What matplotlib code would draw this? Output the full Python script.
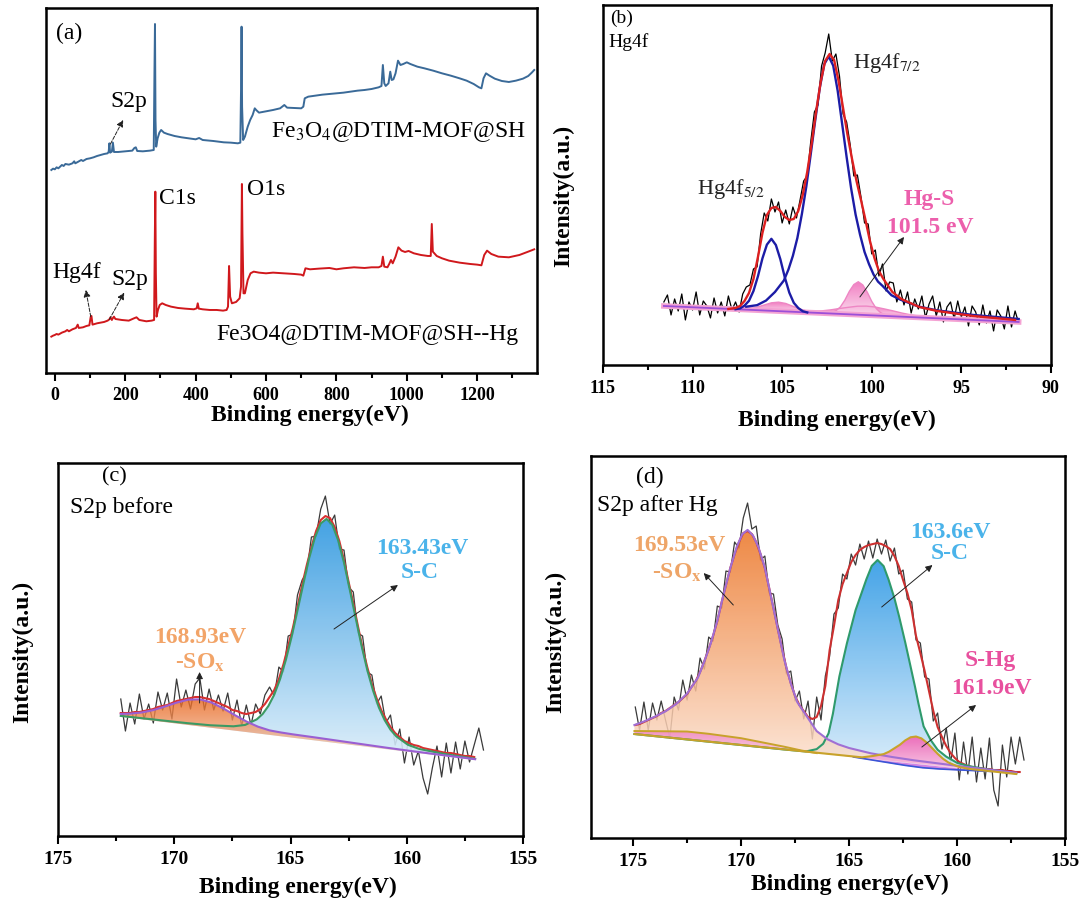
import numpy as np
import matplotlib
matplotlib.use('Agg')
import matplotlib.pyplot as plt
from matplotlib.colors import LinearSegmentedColormap
from matplotlib.ticker import MultipleLocator

plt.rcParams['font.family'] = 'Liberation Serif'
plt.rcParams['mathtext.fontset'] = 'stix'

# ---------------- (a) survey spectra ----------------
a_blue_x = [-10, -5, 0, 5, 10, 20, 25, 30, 40, 50, 55, 58, 65, 75, 80, 90, 100, 110, 120, 130,
            140, 150, 153, 155, 157, 162, 165, 168, 180, 200, 220, 226, 230, 234, 250, 270, 281, 283, 284.5, 286,
            288, 292, 297, 302, 310, 320, 340, 360, 380, 400, 410, 420, 450, 480, 500, 520, 527, 529, 530.5, 532,
            535, 540, 548, 555, 562, 568, 572, 580, 600, 620, 640, 652, 660, 680, 700, 706, 710, 720, 740, 760,
            780, 800, 820, 840, 860, 880, 900, 920, 928, 932, 936, 940, 948, 953, 957, 962, 968, 975, 982, 990,
            1000, 1010, 1030, 1050, 1075, 1100, 1125, 1150, 1170, 1190, 1205, 1212, 1218, 1225, 1235, 1250, 1270, 1290, 1310, 1330,
            1345, 1355, 1362]
a_blue_y = [610, 614, 612, 618, 615, 625, 622, 628, 626, 630, 636, 630, 634, 640, 637, 643, 645, 648, 652, 655,
            658, 660, 665, 690, 662, 665, 692, 664, 664, 666, 668, 676, 678, 667, 666, 668, 670, 900, 1048, 760,
            680, 705, 722, 730, 722, 718, 712, 708, 705, 702, 706, 700, 697, 693, 692, 690, 692, 850, 1040, 800,
            700, 710, 740, 760, 775, 795, 790, 782, 786, 790, 795, 805, 797, 796, 795, 800, 825, 830, 833, 836,
            838, 840, 842, 845, 848, 850, 853, 858, 862, 925, 870, 862, 870, 905, 880, 882, 900, 938, 925, 928,
            933, 928, 920, 915, 908, 900, 893, 885, 878, 868, 858, 855, 885, 900, 893, 884, 877, 874, 878, 884,
            892, 902, 910]
a_red_x = [-10, -5, 0, 5, 10, 20, 30, 35, 40, 50, 60, 65, 68, 80, 90, 98, 102, 104, 107, 120,
           140, 150, 155, 158, 162, 165, 168, 172, 190, 210, 225, 232, 240, 260, 275, 282, 284, 285.5, 287, 289,
           293, 298, 305, 315, 330, 350, 370, 395, 403, 406, 409, 420, 440, 460, 478, 488, 492, 495, 498, 503,
           515, 525, 529, 531.5, 533, 536, 540, 548, 556, 565, 580, 600, 620, 650, 680, 700, 706, 712, 725, 750,
           780, 800, 820, 850, 880, 900, 920, 928, 932, 936, 945, 950, 955, 960, 968, 976, 985, 995, 1005, 1020,
           1040, 1060, 1068, 1071, 1074, 1085, 1100, 1120, 1150, 1180, 1200, 1212, 1220, 1228, 1240, 1260, 1290, 1320, 1345, 1362]
a_red_y = [110, 113, 115, 118, 116, 122, 126, 130, 126, 132, 136, 146, 136, 138, 142, 144, 170, 172, 146, 150,
           154, 158, 162, 168, 160, 166, 170, 163, 160, 158, 165, 168, 160, 156, 158, 160, 400, 545, 300, 170,
           190, 205, 210, 205, 200, 196, 194, 192, 195, 210, 194, 192, 190, 190, 188, 190, 200, 322, 230, 210,
           214, 225, 260, 568, 420, 240, 240, 280, 300, 305, 302, 300, 302, 300, 298, 296, 293, 315, 312, 314,
           316, 312, 315, 318, 316, 318, 318, 322, 350, 320, 318, 328, 340, 330, 350, 378, 368, 364, 367, 360,
           355, 352, 352, 448, 365, 352, 345, 338, 332, 328, 326, 324, 355, 368, 358, 350, 348, 355, 365, 372]
a_ticks = [0, 200, 400, 600, 800, 1000, 1200]

# ---------------- (b) Hg4f ----------------
b_raw = [63, 70, 50, 66, 54, 71, 45, 63, 55, 73, 50, 64, 59, 47, 67, 52, 63, 49, 69, 55,
         63, 53, 71, 78, 80, 96, 98, 131, 152, 144, 166, 153, 163, 142, 155, 141, 158, 147, 165, 184,
         189, 224, 253, 260, 299, 312, 331, 304, 311, 289, 251, 243, 220, 189, 190, 168, 142, 141, 111, 115,
         89, 101, 74, 83, 82, 63, 75, 60, 73, 52, 66, 56, 69, 47, 61, 69, 49, 63, 43, 58,
         63, 46, 64, 48, 58, 39, 59, 53, 40, 60, 42, 54, 34, 55, 49, 36, 59, 38, 54, 42]
b_base_x = [111.6, 91.8]
b_base_y = [59, 43]
b_fit_x = [108.0, 107.6, 107.35, 107.1, 106.85, 106.6, 106.35, 106.1, 105.85, 105.6, 105.35, 105.1, 104.85, 104.6,
           104.35, 104.1, 103.85, 103.6, 103.35, 103.1, 102.85, 102.6, 102.35, 102.1, 101.85, 101.6, 101.35, 101.1,
           100.85, 100.6, 100.35, 100.1, 99.85, 99.6, 99.35, 98.85, 98.35, 97.35, 96.35, 94.35, 92.0]
b_fit_y = [56, 57, 59, 64, 72, 86, 108, 132, 150, 157, 158, 154, 148, 145, 146, 154, 170, 193, 222, 254,
           283, 304, 311, 305, 284, 257, 230, 206, 184, 165, 145, 124, 107, 94, 86, 73, 66, 58, 54, 49, 45]
b_72_x = [107.0, 106.4, 105.9, 105.4, 104.9, 104.65, 104.4, 104.15, 103.9, 103.65, 103.4, 103.15, 102.9, 102.65,
          102.4, 102.15, 101.9, 101.65, 101.4, 101.15, 100.9, 100.65, 100.4, 100.15, 99.9, 99.65, 99.4, 98.9,
          98.4, 97.4, 96.4, 94.4, 91.8]
b_72_h = [3, 5, 10, 19, 31, 42, 56, 74, 98, 126, 159, 193, 225, 249, 257, 248, 223, 190, 157, 126,
          100, 80, 63, 51, 41, 34, 30, 21, 17, 11, 8, 5, 3]
b_52_x = [107.6, 107.35, 107.1, 106.85, 106.6, 106.35, 106.1, 105.85, 105.6, 105.35, 105.1, 104.85, 104.6,
          104.35, 104.1, 103.85, 103.6]
b_52_h = [0, 1, 4, 9, 19, 34, 52, 66, 72, 66, 52, 34, 19, 9, 4, 1, 0]
b_pk1_x = [107.2, 106.8, 106.4, 106.0, 105.6, 105.2, 104.8, 104.4, 104.0, 103.6, 103.2]
b_pk1_h = [0.4, 1.3, 3, 5.5, 8, 9, 8, 5.5, 3, 1.3, 0.4]
b_hgs_x = [102.25, 102.0, 101.75, 101.5, 101.25, 101.0, 100.75, 100.5, 100.25, 100.0, 99.75, 99.5, 99.25]
b_hgs_h = [1, 3, 7, 14, 23, 30, 33, 30, 23, 14, 7, 3, 1]
b_pk3_x = [103.8, 103.3, 102.8, 102.3, 101.8, 101.3, 100.8, 100.3, 99.8, 99.3, 98.8, 98.3, 97.8, 97.3, 96.8]
b_pk3_h = [0.5, 1.2, 2.2, 3.6, 5.4, 7, 8.5, 9, 8.5, 7, 5.4, 3.6, 2.2, 1.2, 0.5]
b_ticks = [115, 110, 105, 100, 95, 90]

# ---------------- (c) S2p before ----------------
c_raw = [137, 105, 133, 112, 142, 117, 132, 113, 144, 126, 143, 117, 157, 129, 146, 127, 152, 158, 126, 147,
         126, 141, 125, 143, 116, 136, 110, 131, 111, 132, 122, 141, 149, 140, 169, 164, 200, 202, 241, 256,
         264, 299, 300, 327, 340, 312, 321, 287, 286, 249, 244, 203, 200, 164, 161, 132, 140, 113, 121, 91,
         107, 73, 99, 71, 85, 58, 42, 68, 90, 59, 93, 63, 94, 67, 95, 74, 91, 108, 86]
c_fit = [123, 123, 123, 124, 124, 125, 126, 127, 129, 130, 131, 133, 135, 136, 137, 138, 139, 139, 138, 137,
         135, 133, 131, 129, 126, 125, 123, 122, 123, 124, 127, 132, 139, 146, 157, 172, 190, 208, 229, 251,
         271, 289, 305, 316, 320, 318, 309, 295, 276, 254, 233, 210, 188, 169, 152, 138, 126, 117, 109, 103,
         99, 95, 93, 91, 90, 88, 87, 86, 85, 84, 83, 83, 82, 81, 80, 80, 79]
c_base_x = [172.3, 157.06]
c_base_y = [119.3, 76]
c_sox_x = [172.3, 171.9, 171.4, 170.9, 170.4, 169.9, 169.4, 168.9, 168.4, 167.9, 167.4, 166.9, 166.4, 165.9,
           165.4, 164.9, 163.9, 162.9, 161.9, 160.9, 159.9, 158.9, 157.06]
c_sox_h = [2.8, 4.2, 6.8, 10.6, 15.6, 20.9, 25.3, 27, 25.3, 20.9, 15.6, 10.6, 6.8, 4.5, 3.8, 3.4, 3.0, 2.5,
           2.0, 1.5, 1.2, 1.0, 0.8]
c_sc_x = [172.3, 169.45, 168.45, 167.45, 166.95, 166.45, 166.2, 165.95, 165.7, 165.45, 165.2, 164.95, 164.7,
          164.45, 164.2, 163.95, 163.7, 163.45, 163.2, 162.95, 162.7, 162.45, 162.2, 161.95, 161.7, 161.45,
          161.2, 160.95, 160.7, 160.45, 159.95, 159.45, 158.45, 157.06]
c_sc_h = [0.8, 1.7, 2.4, 4.2, 7, 14, 20, 28.8, 40.8, 57, 77, 101, 127.8, 155, 181.5, 203, 217.8, 223, 217.8,
          203, 181.5, 155, 127.8, 101, 77, 57, 40.8, 28.8, 20, 14, 7, 4.2, 2.4, 1.2]
cd_ticks = [175, 170, 165, 160, 155]

# ---------------- (d) S2p after Hg ----------------
d_raw = [131, 108, 136, 108, 135, 118, 137, 118, 100, 141, 128, 158, 138, 163, 147, 180, 169, 201, 197, 232,
         230, 267, 266, 296, 290, 320, 335, 309, 312, 278, 282, 245, 244, 213, 199, 164, 167, 137, 147, 119,
         137, 99, 141, 118, 162, 182, 224, 230, 264, 259, 284, 273, 294, 279, 297, 280, 299, 284, 298, 277,
         290, 264, 268, 239, 236, 198, 195, 161, 159, 117, 125, 89, 110, 75, 105, 58, 96, 64, 101, 56,
         90, 59, 100, 48, 32, 93, 61, 101, 74, 101, 78]
d_fit = [113, 114, 116, 118, 120, 122, 125, 127, 130, 133, 136, 140, 144, 151, 157, 166, 177, 189, 202, 217,
         236, 253, 270, 284, 296, 305, 307, 304, 296, 284, 270, 250, 230, 209, 189, 170, 155, 142, 133, 127,
         121, 119, 121, 132, 152, 188, 212, 238, 254, 265, 276, 283, 288, 291, 293, 294, 295, 294, 292, 289,
         282, 272, 258, 245, 228, 202, 185, 167, 147, 127, 111, 101, 92, 85, 80, 76, 74, 72, 71, 70,
         70, 69, 69, 68, 68, 68, 67, 67, 66, 66]
d_base_x = [174.94, 157.26]
d_base_y = [104, 64]
d_sox_x = [174.94, 174.5, 174.0, 173.5, 173.0, 172.5, 172.0, 171.7, 171.4, 171.1, 170.8, 170.5, 170.2, 169.95,
           169.7, 169.45, 169.2, 168.9, 168.6, 168.3, 168.0, 167.7, 167.4, 167.0, 166.5, 166.0, 165.5, 165.0,
           164.0, 163.0, 162.0, 161.0, 160.0, 159.0, 157.26]
d_sox_h = [9, 13.5, 19.4, 26, 34.5, 46, 63, 80, 99, 122, 150, 176, 198, 211, 216, 211, 200, 180, 150, 120,
           90, 67, 49, 37, 22, 15, 11, 8.5, 5.5, 4, 3, 2.5, 2, 1.7, 1.2]
d_sc_x = [174.94, 168.0, 167.0, 166.5, 166.2, 165.95, 165.75, 165.45, 165.1, 164.7, 164.45, 164.2, 163.95,
          163.68, 163.4, 163.17, 162.9, 162.68, 162.4, 162.19, 161.95, 161.79, 161.55, 161.22, 160.9, 160.5,
          160.0, 159.5, 158.5, 157.26]
d_sc_h = [0, 0.2, 0.5, 4, 10, 21, 41, 79, 113, 147, 163, 179, 193, 199.5, 194, 181, 163, 145, 120, 100,
          77, 60.5, 38, 25, 16, 10, 5, 3, 1.5, 0.5]
d_shg_x = [174.94, 164.4, 163.9, 163.4, 163.15, 162.9, 162.65, 162.4, 162.15, 161.9, 161.65, 161.4, 161.15,
           160.9, 160.65, 160.4, 159.9, 159.4, 157.26]
d_shg_h = [0, 0.5, 3, 6, 9, 13, 17, 22, 25.7, 27, 25.7, 22, 17, 12, 7.6, 4.4, 1, 0.2, 0]
d_pk2_x = [174.94, 173.5, 172.5, 171.5, 170.0, 169.0, 168.0, 167.2, 166.5]
d_pk2_h = [3, 6, 8, 8, 7, 5, 3, 1, 0]
d_dip_x = [164.8, 164.0, 163.2, 162.4, 161.6, 160.8, 160.0, 159.2, 158.4]
d_dip_h = [0, -1, -2, -3, -3.5, -3, -2, -1, 0]


def grad_fill(ax, x, lo, hi, c_top, c_bot, z, alpha=1.0):
    x = np.asarray(x, float)
    poly = ax.fill_between(x, lo, hi, facecolor='none', edgecolor='none', zorder=z)
    cmap = LinearSegmentedColormap.from_list('g', [c_bot, c_top])
    img = ax.imshow(np.linspace(0, 1, 256).reshape(-1, 1), cmap=cmap, aspect='auto', origin='lower',
                    extent=[x.min(), x.max(), np.min(lo), np.max(hi)], zorder=z, alpha=alpha)
    img.set_clip_path(poly.get_paths()[0], transform=ax.transData)


def baseline(x, bx, by):
    return np.interp(x, bx[::-1], by[::-1])


def style(ax, xlim, ylim, ticks, minor, size, xlab_xy, ylab_xy=None, pad=5):
    ax.set_xlim(*xlim)
    ax.set_ylim(*ylim)
    ax.set_yticks([])
    ax.set_xticks(ticks)
    ax.set_xticklabels([str(t) for t in ticks], fontweight='bold', fontsize=size)
    ax.xaxis.set_minor_locator(MultipleLocator(minor))
    ax.tick_params(axis='x', which='major', direction='out', length=6, width=1.5, pad=pad)
    ax.tick_params(axis='x', which='minor', direction='out', length=3.5, width=1.5)
    for s in ax.spines.values():
        s.set_linewidth(1.8)
    ax.set_xlabel('Binding energy(eV)', fontsize=17, fontweight='bold')
    ax.xaxis.set_label_coords(*xlab_xy)
    if ylab_xy is not None:
        ax.set_ylabel('Intensity(a.u.)', fontsize=17, fontweight='bold')
        ax.yaxis.set_label_coords(*ylab_xy)


def arrow(ax, tail, head, ls='-'):
    ax.annotate('', xy=head, xytext=tail,
                arrowprops=dict(arrowstyle='-|>', color='#222222', lw=0.7, ls=ls,
                                mutation_scale=10, shrinkA=0, shrinkB=0), zorder=8)


fig = plt.figure(figsize=(10.86, 9.09), dpi=100)

# ---- (a)
ax = fig.add_axes([0.0424, 0.5897, 0.4521, 0.4015])
ax.plot(a_blue_x, a_blue_y, color='#3a6a98', lw=1.4)
ax.plot(a_red_x, a_red_y, color='#d0181c', lw=1.4)
ax.text(41, 1020, '(a)', ha='center', va='center', fontsize=17)
ax.text(209, 815, 'S2p', ha='center', va='center', fontsize=17)
ax.text(1338, 725, 'Fe$_3$O$_4$@DTIM-MOF@SH', ha='right', va='center', fontsize=17)
ax.text(296, 525, 'C1s', ha='left', va='center', fontsize=17)
ax.text(546, 550, 'O1s', ha='left', va='center', fontsize=17)
ax.text(63, 302, 'Hg4f', ha='center', va='center', fontsize=17)
ax.text(214, 280, 'S2p', ha='center', va='center', fontsize=17)
ax.text(1318, 115, 'Fe3O4@DTIM-MOF@SH--Hg', ha='right', va='center', fontsize=17)
arrow(ax, (158, 688), (194, 760), ls='--')
arrow(ax, (102, 170), (88, 250), ls='--')
arrow(ax, (155, 162), (197, 242), ls='--')
style(ax, (-25, 1370), (1, 1096), a_ticks, 100, 13, (0.537, -0.088), pad=4)

# ---- (b)
ax = fig.add_axes([0.5552, 0.5985, 0.4125, 0.3960])
bx = np.linspace(111.6, 91.8, len(b_raw))
ax.plot(bx, b_raw, color='black', lw=0.9, zorder=2)
for px, ph in [(b_pk1_x, b_pk1_h), (b_pk3_x, b_pk3_h), (b_hgs_x, b_hgs_h)]:
    xx = np.array(px)
    lo = baseline(xx, b_base_x, b_base_y)
    hi = lo + np.array(ph)
    grad_fill(ax, xx, lo, hi, '#f06fbb', '#fbdcee', 3, alpha=0.9)
    ax.plot(xx, hi, color='#ee86c4', lw=1.0, zorder=3.5)
ax.plot(b_base_x, b_base_y, color='#f4a3d3', lw=4, zorder=3.6)
ax.plot(b_base_x, b_base_y, color='#9b4fd8', lw=1.3, zorder=3.7)
for px, ph in [(b_72_x, b_72_h), (b_52_x, b_52_h)]:
    xx = np.array(px)
    ax.plot(xx, baseline(xx, b_base_x, b_base_y) + np.array(ph), color='#1c1ca6', lw=1.7, zorder=5)
ax.plot(b_fit_x, b_fit_y, color='#dd2020', lw=1.7, zorder=6)
ax.text(113.94, 347, '(b)', ha='center', va='center', fontsize=14)
ax.text(114.72, 323, 'Hg4f', ha='left', va='center', fontsize=14)
ax.text(101.05, 302, 'Hg4f$_{7/2}$', ha='left', va='center', fontsize=16, color='#222222')
ax.text(109.75, 176, 'Hg4f$_{5/2}$', ha='left', va='center', fontsize=16, color='#222222')
ax.text(96.81, 165, 'Hg-S', ha='center', va='center', fontsize=17, fontweight='bold', color='#ec5fac')
ax.text(96.75, 137, '101.5 eV', ha='center', va='center', fontsize=17, fontweight='bold', color='#ec5fac')
arrow(ax, (100.66, 68), (98.2, 128))
style(ax, (115, 90), (0, 360), b_ticks, 2.5, 13, (0.522, -0.125), (-0.065, 0.469))

# ---- (c)
ax = fig.add_axes([0.0534, 0.0803, 0.4282, 0.4103])
cx = np.linspace(172.3, 156.7, len(c_raw))
ax.plot(cx, c_raw, color='#3a3a3a', lw=0.9, zorder=2)
xx = np.array(c_sc_x)
lo = baseline(xx, c_base_x, c_base_y)
c_sc_top = lo + np.array(c_sc_h)
grad_fill(ax, xx, lo, c_sc_top, '#2f98e0', '#dcEEFA', 3, alpha=0.9)
xs = np.array(c_sox_x)
lo2 = baseline(xs, c_base_x, c_base_y)
c_sox_top = lo2 + np.array(c_sox_h)
grad_fill(ax, xs, lo2, c_sox_top, '#e8661e', '#f9dccb', 3.2, alpha=0.8)
ax.plot(np.linspace(172.3, 157.1, len(c_fit)), c_fit, color='#d83030', lw=1.5, zorder=4)
ax.plot(xx, c_sc_top, color='#3c9a64', lw=1.5, zorder=4.5)
ax.plot(xs, c_sox_top, color='#9a5fd2', lw=1.5, zorder=4.6)
ax.text(172.59, 359, '(c)', ha='center', va='center', fontsize=16)
ax.text(174.48, 329, 'S2p before', ha='left', va='center', fontsize=17)
ax.text(159.34, 288, '163.43eV', ha='center', va='center', fontsize=17, fontweight='bold', color='#4ab3ea')
ax.text(159.43, 264, 'S-C', ha='center', va='center', fontsize=17, fontweight='bold', color='#4ab3ea')
ax.text(168.89, 199, '168.93eV', ha='center', va='center', fontsize=17, fontweight='bold', color='#f2a468')
ax.text(168.89, 173, r'-SO$_\mathbf{x}$', ha='center', va='center', fontsize=17, fontweight='bold', color='#f2a468')
arrow(ax, (163.13, 207), (160.38, 251))
arrow(ax, (168.91, 133), (168.91, 164))
style(ax, (175, 155), (0, 373), cd_ticks, 2.5, 14, (0.515, -0.11), (-0.054, 0.493))

# ---- (d)
ax = fig.add_axes([0.5442, 0.0781, 0.4365, 0.4202])
dx = np.linspace(174.9, 156.9, len(d_raw))
ax.plot(dx, d_raw, color='#3a3a3a', lw=0.9, zorder=2)
xx = np.array(d_sc_x)
lo = baseline(xx, d_base_x, d_base_y)
d_sc_top = lo + np.array(d_sc_h)
grad_fill(ax, xx, lo, d_sc_top, '#349ce6', '#dcEEFB', 3, alpha=0.92)
xs = np.array(d_sox_x)
lo2 = baseline(xs, d_base_x, d_base_y)
d_sox_top = lo2 + np.array(d_sox_h)
grad_fill(ax, xs, lo2, d_sox_top, '#ec7424', '#fde6d8', 3.2, alpha=0.85)
xp = np.array(d_pk2_x)
lo3 = baseline(xp, d_base_x, d_base_y)
d_pk2_top = lo3 + np.array(d_pk2_h)
grad_fill(ax, xp, lo3, d_pk2_top, '#f080c2', '#f8c6e2', 3.3, alpha=0.8)
xh = np.array(d_shg_x)
lo4 = baseline(xh, d_base_x, d_base_y)
d_shg_top = lo4 + np.array(d_shg_h)
grad_fill(ax, xh, lo4, d_shg_top, '#ee62b4', '#fbd3ea', 3.4, alpha=0.95)
xd = np.array(d_dip_x)
lo5 = baseline(xd, d_base_x, d_base_y)
ax.fill_between(xd, lo5 + np.array(d_dip_h), lo5, color='#c050d8', alpha=0.7, lw=0, zorder=3.4)
ax.plot(xd, lo5 + np.array(d_dip_h), color='#3a56d6', lw=1.2, zorder=4.4)
ax.plot(np.linspace(174.9, 157.1, len(d_fit)), d_fit, color='#cc3030', lw=1.5, zorder=4)
ax.plot(xx, d_sc_top, color='#2f9a6c', lw=1.5, zorder=4.5)
ax.plot(xs, d_sox_top, color='#a070d4', lw=1.5, zorder=4.6)
ax.plot(xp, d_pk2_top, color='#c8a22a', lw=1.4, zorder=4.7)
ax.plot(xh, d_shg_top, color='#c8a22a', lw=1.5, zorder=4.7)
ax.text(174.21, 361, '(d)', ha='center', va='center', fontsize=17)
ax.text(176.67, 333, 'S2p after Hg', ha='left', va='center', fontsize=17)
ax.text(172.87, 293, '169.53eV', ha='center', va='center', fontsize=17, fontweight='bold', color='#eea568')
ax.text(172.96, 265, r'-SO$_\mathbf{x}$', ha='center', va='center', fontsize=17, fontweight='bold', color='#eea568')
ax.text(160.32, 306, '163.6eV', ha='center', va='center', fontsize=17, fontweight='bold', color='#4ab3ea')
ax.text(160.32, 285, 'S-C', ha='center', va='center', fontsize=17, fontweight='bold', color='#4ab3ea')
ax.text(158.47, 178, 'S-Hg', ha='center', va='center', fontsize=17, fontweight='bold', color='#e8509e')
ax.text(158.43, 150, '161.9eV', ha='center', va='center', fontsize=17, fontweight='bold', color='#e8509e')
arrow(ax, (170.36, 233), (171.73, 265))
arrow(ax, (163.49, 231), (161.14, 273))
arrow(ax, (161.63, 91), (159.12, 133))
style(ax, (176.95, 155), (0, 382), cd_ticks, 2.5, 14, (0.546, -0.094), (-0.053, 0.513))

fig.savefig('out.png', dpi=100)
